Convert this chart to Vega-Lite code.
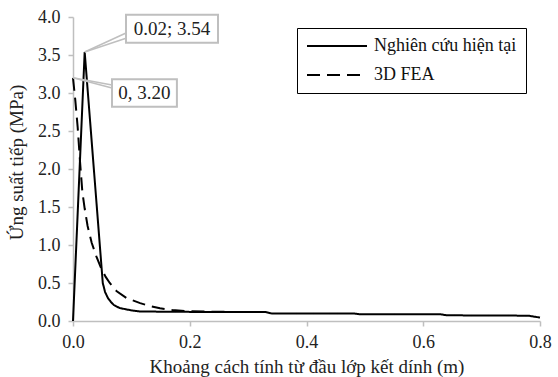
{
  "$schema": "https://vega.github.io/schema/vega-lite/v6.json",
  "width": 467,
  "height": 304,
  "autosize": {"type": "none"},
  "padding": {"left": 73, "top": 17, "right": 18, "bottom": 56},
  "background": "white",
  "config": {
    "view": {"stroke": null},
    "font": "Liberation Serif",
    "axis": {
      "grid": false,
      "labelFlush": false,
      "labelOverlap": false,
      "domainColor": "#bfbfbf",
      "domainWidth": 1.5,
      "tickColor": "#bfbfbf",
      "tickWidth": 1.5,
      "tickSize": 5,
      "labelFont": "Liberation Serif",
      "labelFontSize": 18,
      "labelColor": "#222222",
      "titleFont": "Liberation Serif",
      "titleFontSize": 19,
      "titleFontWeight": "normal",
      "titleColor": "#222222"
    },
    "legend": {
      "labelFont": "Liberation Serif",
      "labelFontSize": 18,
      "labelColor": "#111111"
    }
  },
  "datasets": {
    "curves": [
      {"series": "Nghiên cứu hiện tại", "x": 0, "y": 0},
      {"series": "Nghiên cứu hiện tại", "x": 0.02, "y": 3.54},
      {"series": "Nghiên cứu hiện tại", "x": 0.051, "y": 0.5},
      {"series": "Nghiên cứu hiện tại", "x": 0.055, "y": 0.38},
      {"series": "Nghiên cứu hiện tại", "x": 0.06, "y": 0.3},
      {"series": "Nghiên cứu hiện tại", "x": 0.065, "y": 0.25},
      {"series": "Nghiên cứu hiện tại", "x": 0.07, "y": 0.21},
      {"series": "Nghiên cứu hiện tại", "x": 0.08, "y": 0.17},
      {"series": "Nghiên cứu hiện tại", "x": 0.09, "y": 0.155},
      {"series": "Nghiên cứu hiện tại", "x": 0.1, "y": 0.14},
      {"series": "Nghiên cứu hiện tại", "x": 0.115, "y": 0.125},
      {"series": "Nghiên cứu hiện tại", "x": 0.2, "y": 0.12},
      {"series": "Nghiên cứu hiện tại", "x": 0.33, "y": 0.118},
      {"series": "Nghiên cứu hiện tại", "x": 0.34, "y": 0.1},
      {"series": "Nghiên cứu hiện tại", "x": 0.48, "y": 0.1},
      {"series": "Nghiên cứu hiện tại", "x": 0.49, "y": 0.09},
      {"series": "Nghiên cứu hiện tại", "x": 0.63, "y": 0.088},
      {"series": "Nghiên cứu hiện tại", "x": 0.64, "y": 0.075},
      {"series": "Nghiên cứu hiện tại", "x": 0.78, "y": 0.07},
      {"series": "Nghiên cứu hiện tại", "x": 0.8, "y": 0.045},
      {"series": "3D FEA", "x": 0, "y": 3.2},
      {"series": "3D FEA", "x": 0.004, "y": 2.9},
      {"series": "3D FEA", "x": 0.008, "y": 2.55},
      {"series": "3D FEA", "x": 0.012, "y": 2.1},
      {"series": "3D FEA", "x": 0.016, "y": 1.7},
      {"series": "3D FEA", "x": 0.02, "y": 1.48},
      {"series": "3D FEA", "x": 0.025, "y": 1.25},
      {"series": "3D FEA", "x": 0.032, "y": 1.03},
      {"series": "3D FEA", "x": 0.04, "y": 0.85},
      {"series": "3D FEA", "x": 0.049, "y": 0.68},
      {"series": "3D FEA", "x": 0.056, "y": 0.58},
      {"series": "3D FEA", "x": 0.063, "y": 0.5},
      {"series": "3D FEA", "x": 0.075, "y": 0.39},
      {"series": "3D FEA", "x": 0.092, "y": 0.3},
      {"series": "3D FEA", "x": 0.115, "y": 0.235},
      {"series": "3D FEA", "x": 0.13, "y": 0.2},
      {"series": "3D FEA", "x": 0.149, "y": 0.167},
      {"series": "3D FEA", "x": 0.17, "y": 0.145},
      {"series": "3D FEA", "x": 0.195, "y": 0.13},
      {"series": "3D FEA", "x": 0.235, "y": 0.122},
      {"series": "3D FEA", "x": 0.27, "y": 0.12}
    ],
    "leaders": [
      {"px": 0.02, "py": 3.54, "lx": 0.0908, "ly": 3.79},
      {"px": 0.02, "py": 3.54, "lx": 0.0908, "ly": 3.72},
      {"px": 0, "py": 3.2, "lx": 0.0668, "ly": 3.105},
      {"px": 0, "py": 3.2, "lx": 0.0668, "ly": 3.066}
    ],
    "callouts": [
      {"label": "0.02; 3.54", "x0": 0.0908, "x1": 0.2484, "y0": 3.66, "y1": 4.03, "tx": 0.1696, "ty": 3.845},
      {"label": "0, 3.20", "x0": 0.0668, "x1": 0.178, "y0": 2.82, "y1": 3.18, "tx": 0.1224, "ty": 3.0}
    ]
  },
  "layer": [
    {
      "data": {"name": "curves"},
      "mark": {"type": "line", "color": "black", "strokeWidth": 2},
      "encoding": {
        "x": {
          "field": "x", "type": "quantitative",
          "title": "Khoảng cách tính từ đầu lớp kết dính (m)",
          "scale": {"domain": [0, 0.8], "nice": false, "zero": false},
          "axis": {"values": [0, 0.2, 0.4, 0.6, 0.8], "format": ".1f", "labelPadding": 7, "titleX": 233.5, "titleY": 51, "titleBaseline": "alphabetic"}
        },
        "y": {
          "field": "y", "type": "quantitative",
          "title": "Ứng suất tiếp (MPa)",
          "scale": {"domain": [0, 4], "nice": false},
          "axis": {"values": [0, 0.5, 1, 1.5, 2, 2.5, 3, 3.5, 4], "format": ".1f", "labelPadding": 8, "titleX": -57, "titleY": 145, "titleAngle": -90, "titleAlign": "center", "titleBaseline": "middle"}
        },
        "strokeDash": {
          "field": "series", "type": "nominal",
          "scale": {"domain": ["Nghiên cứu hiện tại", "3D FEA"], "range": [[1, 0], [13, 7]]},
          "legend": {
            "title": null,
            "orient": "none",
            "legendX": 224,
            "legendY": 11,
            "symbolType": "M-3.75,0H3.75",
            "symbolSize": 256,
            "symbolOffset": 22,
            "symbolStrokeColor": "black",
            "symbolStrokeWidth": 2,
            "symbolFillColor": "transparent",
            "labelOffset": 28,
            "rowPadding": 11,
            "padding": 9,
            "strokeColor": "black",
            "fillColor": "white"
          }
        }
      }
    },
    {
      "data": {"name": "leaders"},
      "mark": {"type": "rule", "color": "#bfbfbf", "strokeWidth": 1.5},
      "encoding": {
        "x": {
          "field": "px", "type": "quantitative",
          "title": "Khoảng cách tính từ đầu lớp kết dính (m)",
          "axis": {"values": [0, 0.2, 0.4, 0.6, 0.8], "format": ".1f", "labelPadding": 7, "titleX": 233.5, "titleY": 51, "titleBaseline": "alphabetic"}
        },
        "y": {
          "field": "py", "type": "quantitative",
          "title": "Ứng suất tiếp (MPa)",
          "axis": {"values": [0, 0.5, 1, 1.5, 2, 2.5, 3, 3.5, 4], "format": ".1f", "labelPadding": 8, "titleX": -57, "titleY": 145, "titleAngle": -90, "titleAlign": "center", "titleBaseline": "middle"}
        },
        "x2": {"field": "lx"},
        "y2": {"field": "ly"}
      }
    },
    {
      "data": {"name": "callouts"},
      "mark": {"type": "rect", "fill": "white", "stroke": "#bfbfbf", "strokeWidth": 2},
      "encoding": {
        "x": {
          "field": "x0", "type": "quantitative",
          "title": "Khoảng cách tính từ đầu lớp kết dính (m)",
          "axis": {"values": [0, 0.2, 0.4, 0.6, 0.8], "format": ".1f", "labelPadding": 7, "titleX": 233.5, "titleY": 51, "titleBaseline": "alphabetic"}
        },
        "x2": {"field": "x1"},
        "y": {
          "field": "y0", "type": "quantitative",
          "title": "Ứng suất tiếp (MPa)",
          "axis": {"values": [0, 0.5, 1, 1.5, 2, 2.5, 3, 3.5, 4], "format": ".1f", "labelPadding": 8, "titleX": -57, "titleY": 145, "titleAngle": -90, "titleAlign": "center", "titleBaseline": "middle"}
        },
        "y2": {"field": "y1"}
      }
    },
    {
      "data": {"name": "callouts"},
      "mark": {"type": "text", "font": "Liberation Serif", "fontSize": 19, "color": "#222222", "align": "center", "baseline": "middle"},
      "encoding": {
        "x": {
          "field": "tx", "type": "quantitative",
          "title": "Khoảng cách tính từ đầu lớp kết dính (m)",
          "axis": {"values": [0, 0.2, 0.4, 0.6, 0.8], "format": ".1f", "labelPadding": 7, "titleX": 233.5, "titleY": 51, "titleBaseline": "alphabetic"}
        },
        "y": {
          "field": "ty", "type": "quantitative",
          "title": "Ứng suất tiếp (MPa)",
          "axis": {"values": [0, 0.5, 1, 1.5, 2, 2.5, 3, 3.5, 4], "format": ".1f", "labelPadding": 8, "titleX": -57, "titleY": 145, "titleAngle": -90, "titleAlign": "center", "titleBaseline": "middle"}
        },
        "text": {"field": "label"}
      }
    }
  ]
}
